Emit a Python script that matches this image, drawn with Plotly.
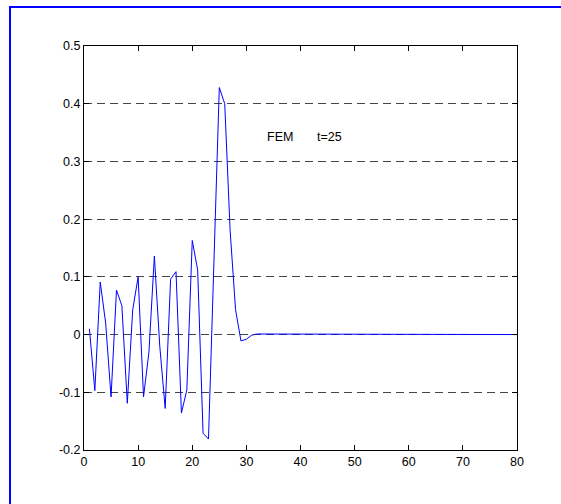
import plotly.graph_objects as go

# data
x_vals = list(range(1, 81))
y_head = [0.01, -0.097, 0.091, 0.02, -0.108, 0.077, 0.05, -0.119, 0.043, 0.10,
          -0.108, -0.03, 0.136, -0.02, -0.128, 0.096, 0.109, -0.136, -0.096, 0.163,
          0.112, -0.171, -0.181, 0.13, 0.428, 0.40, 0.18, 0.043, -0.011, -0.008,
          -0.001, 0.001, 0.001]
y_vals = y_head + [0.0] * (80 - len(y_head))

x_ticks = [0, 10, 20, 30, 40, 50, 60, 70, 80]
x_ticktext = ["0", "10", "20", "30", "40", "50", "60", "70", "80"]
y_ticks = [-0.2, -0.1, 0, 0.1, 0.2, 0.3, 0.4, 0.5]
y_ticktext = ["-0.2", "-0.1", "0", "0.1", "0.2", "0.3", "0.4", "0.5"]

W, H = 561, 504
L, R, T, B = 84, 44, 46, 54
pw, ph = W - L - R, H - T - B

def px(X):
    return (X - L) / pw

def py(Y):
    return (H - B - Y) / ph

FONT = "Liberation Sans, Arial"

fig = go.Figure()
fig.add_trace(go.Scatter(x=x_vals, y=y_vals, mode="lines",
                         line=dict(color="#0000ff", width=1), showlegend=False))

axis_common = dict(showline=True, linecolor="black", linewidth=1, mirror="ticks",
                   ticks="inside", ticklen=5, tickcolor="black", zeroline=False,
                   tickfont=dict(family=FONT, size=12.5, color="black"))

fig.update_xaxes(range=[0, 80], tickvals=x_ticks, ticktext=x_ticktext,
                 showgrid=False, **axis_common)
fig.update_yaxes(range=[-0.2, 0.5], tickvals=y_ticks, ticktext=y_ticktext,
                 showgrid=True, gridcolor="#444444", griddash="8px,5px", gridwidth=1,
                 ticklabelstandoff=0, **axis_common)

fig.add_annotation(x=33.4, y=0.342, text="FEM",
                   showarrow=False, xanchor="left", yanchor="middle",
                   font=dict(family=FONT, size=12.5, color="black"))
fig.add_annotation(x=42.6, y=0.342, text="t=25",
                   showarrow=False, xanchor="left", yanchor="middle",
                   font=dict(family=FONT, size=12.5, color="black"))

# blue figure border (top and left)
fig.add_shape(type="line", xref="paper", yref="paper",
              x0=px(9), x1=px(570), y0=py(7), y1=py(7),
              line=dict(color="#0000ff", width=2))
fig.add_shape(type="line", xref="paper", yref="paper",
              x0=px(10), x1=px(10), y0=py(6), y1=py(520),
              line=dict(color="#0000ff", width=2))

fig.update_layout(width=W, height=H, margin=dict(l=L, r=R, t=T, b=B),
                  plot_bgcolor="white", paper_bgcolor="white")

fig.write_html("out.html")
